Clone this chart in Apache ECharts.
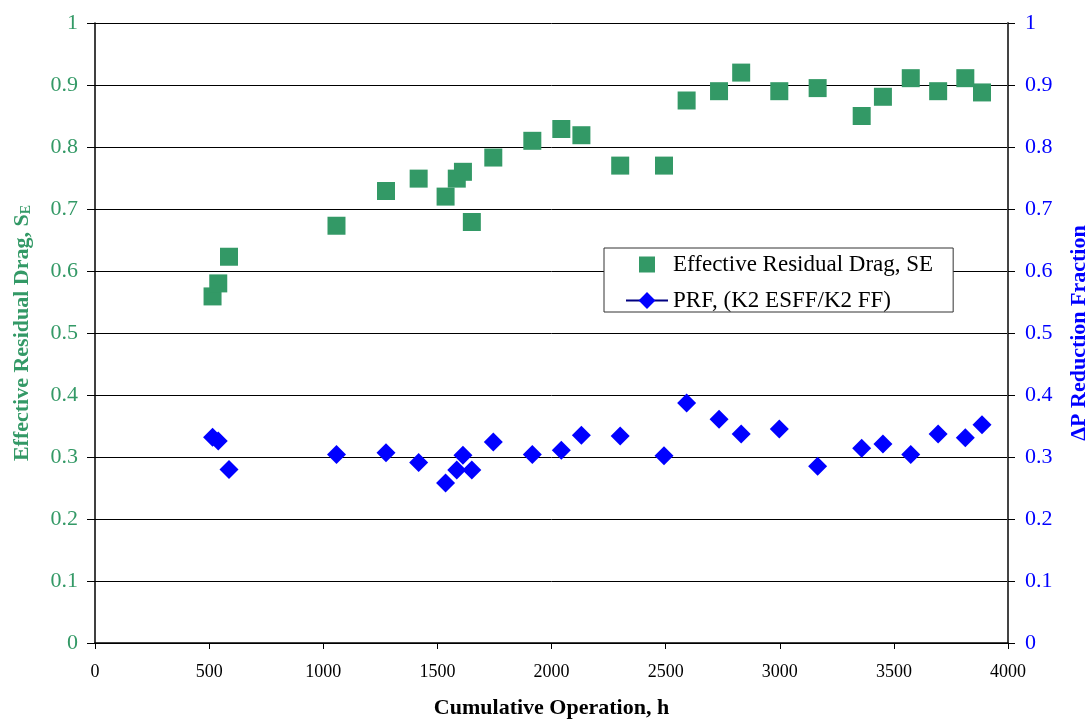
<!DOCTYPE html>
<html>
<head>
<meta charset="utf-8">
<script src="https://cdn.jsdelivr.net/npm/echarts@6/dist/echarts.min.js"></script>
<style>html,body{margin:0;padding:0;background:#fff;}#chart{width:1089px;height:719px;}</style>
</head>
<body>
<div id="chart"></div>
<script>
// Data
var hours = [515, 540, 587, 1058, 1275, 1418, 1536, 1585, 1612, 1651, 1745, 1916, 2043, 2131, 2301, 2493, 2592, 2734, 2831, 2998, 3166, 3359, 3452, 3574, 3694, 3813, 3886];
var residualDrag = [0.559, 0.580, 0.623, 0.673, 0.729, 0.749, 0.720, 0.749, 0.760, 0.679, 0.783, 0.810, 0.829, 0.819, 0.770, 0.770, 0.875, 0.890, 0.920, 0.890, 0.895, 0.850, 0.881, 0.911, 0.890, 0.911, 0.888];
var prf = [0.332, 0.326, 0.280, 0.304, 0.307, 0.291, 0.258, 0.279, 0.303, 0.279, 0.324, 0.304, 0.311, 0.335, 0.334, 0.302, 0.387, 0.361, 0.337, 0.345, 0.285, 0.314, 0.321, 0.304, 0.337, 0.331, 0.352];
var xTicks = [0, 500, 1000, 1500, 2000, 2500, 3000, 3500, 4000];
var yTicks = [0, 0.1, 0.2, 0.3, 0.4, 0.5, 0.6, 0.7, 0.8, 0.9, 1];
var seriesNames = ['Effective Residual Drag, SE', 'PRF, (K2 ESFF/K2 FF)'];

var GREEN = '#339966';
var BLUE = '#0000FF';
var FONT = '"Liberation Serif", "Times New Roman", serif';

function pairs(xs, ys) { return xs.map(function (x, i) { return [x, ys[i]]; }); }

var chart = echarts.init(document.getElementById('chart'), null, {renderer: 'canvas'});
chart.setOption({
  backgroundColor: '#ffffff',
  animation: false,
  textStyle: {fontFamily: FONT},
  grid: {left: 95, right: 81, top: 23, bottom: 76, containLabel: false, outerBoundsMode: 'none'},
  legend: {
    orient: 'vertical',
    left: 604,
    top: 248,
    padding: [5, 20, 0, 21],
    itemWidth: 42,
    itemHeight: 21,
    itemGap: 13,
    backgroundColor: '#ffffff',
    borderColor: '#333333',
    borderWidth: 1,
    borderRadius: 0,
    textStyle: {fontFamily: FONT, fontSize: 23, color: '#000000'},
    data: [
      {name: seriesNames[0], icon: 'path://M0 0M2.5 2.5H18.5V18.5H2.5ZM21 21'},
      {name: seriesNames[1], lineStyle: {color: '#000080', width: 2, opacity: 1}}
    ]
  },
  xAxis: {
    type: 'value',
    min: xTicks[0],
    max: xTicks[xTicks.length - 1],
    interval: 500,
    name: 'Cumulative Operation, h',
    nameLocation: 'middle',
    nameGap: 54,
    nameTextStyle: {fontFamily: FONT, fontSize: 22, fontWeight: 'bold', color: '#000000'},
    axisLine: {show: true, lineStyle: {color: '#000000', width: 1.5}},
    axisTick: {show: true, length: 6, lineStyle: {color: '#000000'}},
    axisLabel: {fontFamily: FONT, fontSize: 18, color: '#000000', margin: 20, formatter: function (v) { return String(v); }},
    splitLine: {show: false}
  },
  yAxis: [
    {
      type: 'value',
      min: yTicks[0],
      max: yTicks[yTicks.length - 1],
      interval: 0.1,
      position: 'left',
      name: '{a|Effective Residual Drag, S}{s|E}',
      nameLocation: 'middle',
      nameGap: 62,
      nameRotate: 90,
      nameTextStyle: {
        rich: {
          a: {fontFamily: FONT, fontSize: 22, fontWeight: 'bold', color: GREEN},
          s: {fontFamily: FONT, fontSize: 14, fontWeight: 'bold', color: GREEN, verticalAlign: 'bottom', padding: [8, 0, 0, 0]}
        }
      },
      axisLine: {show: true, lineStyle: {color: '#000000', width: 1.5}},
      axisTick: {show: true, length: 8, lineStyle: {color: '#000000'}},
      axisLabel: {fontFamily: FONT, fontSize: 22, color: GREEN, margin: 17},
      splitLine: {show: true, lineStyle: {color: '#000000', width: 1}}
    },
    {
      type: 'value',
      min: yTicks[0],
      max: yTicks[yTicks.length - 1],
      interval: 0.1,
      position: 'right',
      name: '\u0394P Reduction Fraction',
      nameLocation: 'middle',
      nameGap: 60,
      nameRotate: 90,
      nameTextStyle: {fontFamily: FONT, fontSize: 22, fontWeight: 'bold', color: BLUE},
      axisLine: {show: true, lineStyle: {color: '#444444', width: 2}},
      axisTick: {show: true, length: 7, lineStyle: {color: '#000000'}},
      axisLabel: {fontFamily: FONT, fontSize: 22, color: BLUE, margin: 17},
      splitLine: {show: false}
    }
  ],
  series: [
    {
      name: seriesNames[0],
      type: 'scatter',
      yAxisIndex: 0,
      symbol: 'rect',
      symbolSize: 18,
      itemStyle: {color: GREEN, opacity: 1},
      data: pairs(hours, residualDrag),
      z: 3
    },
    {
      name: seriesNames[1],
      type: 'line',
      yAxisIndex: 1,
      symbol: 'diamond',
      symbolSize: 19,
      showSymbol: true,
      lineStyle: {width: 0, opacity: 0, color: '#000080'},
      itemStyle: {color: BLUE, borderWidth: 0, opacity: 1},
      data: pairs(hours, prf),
      z: 4
    }
  ]
});
</script>
</body>
</html>
